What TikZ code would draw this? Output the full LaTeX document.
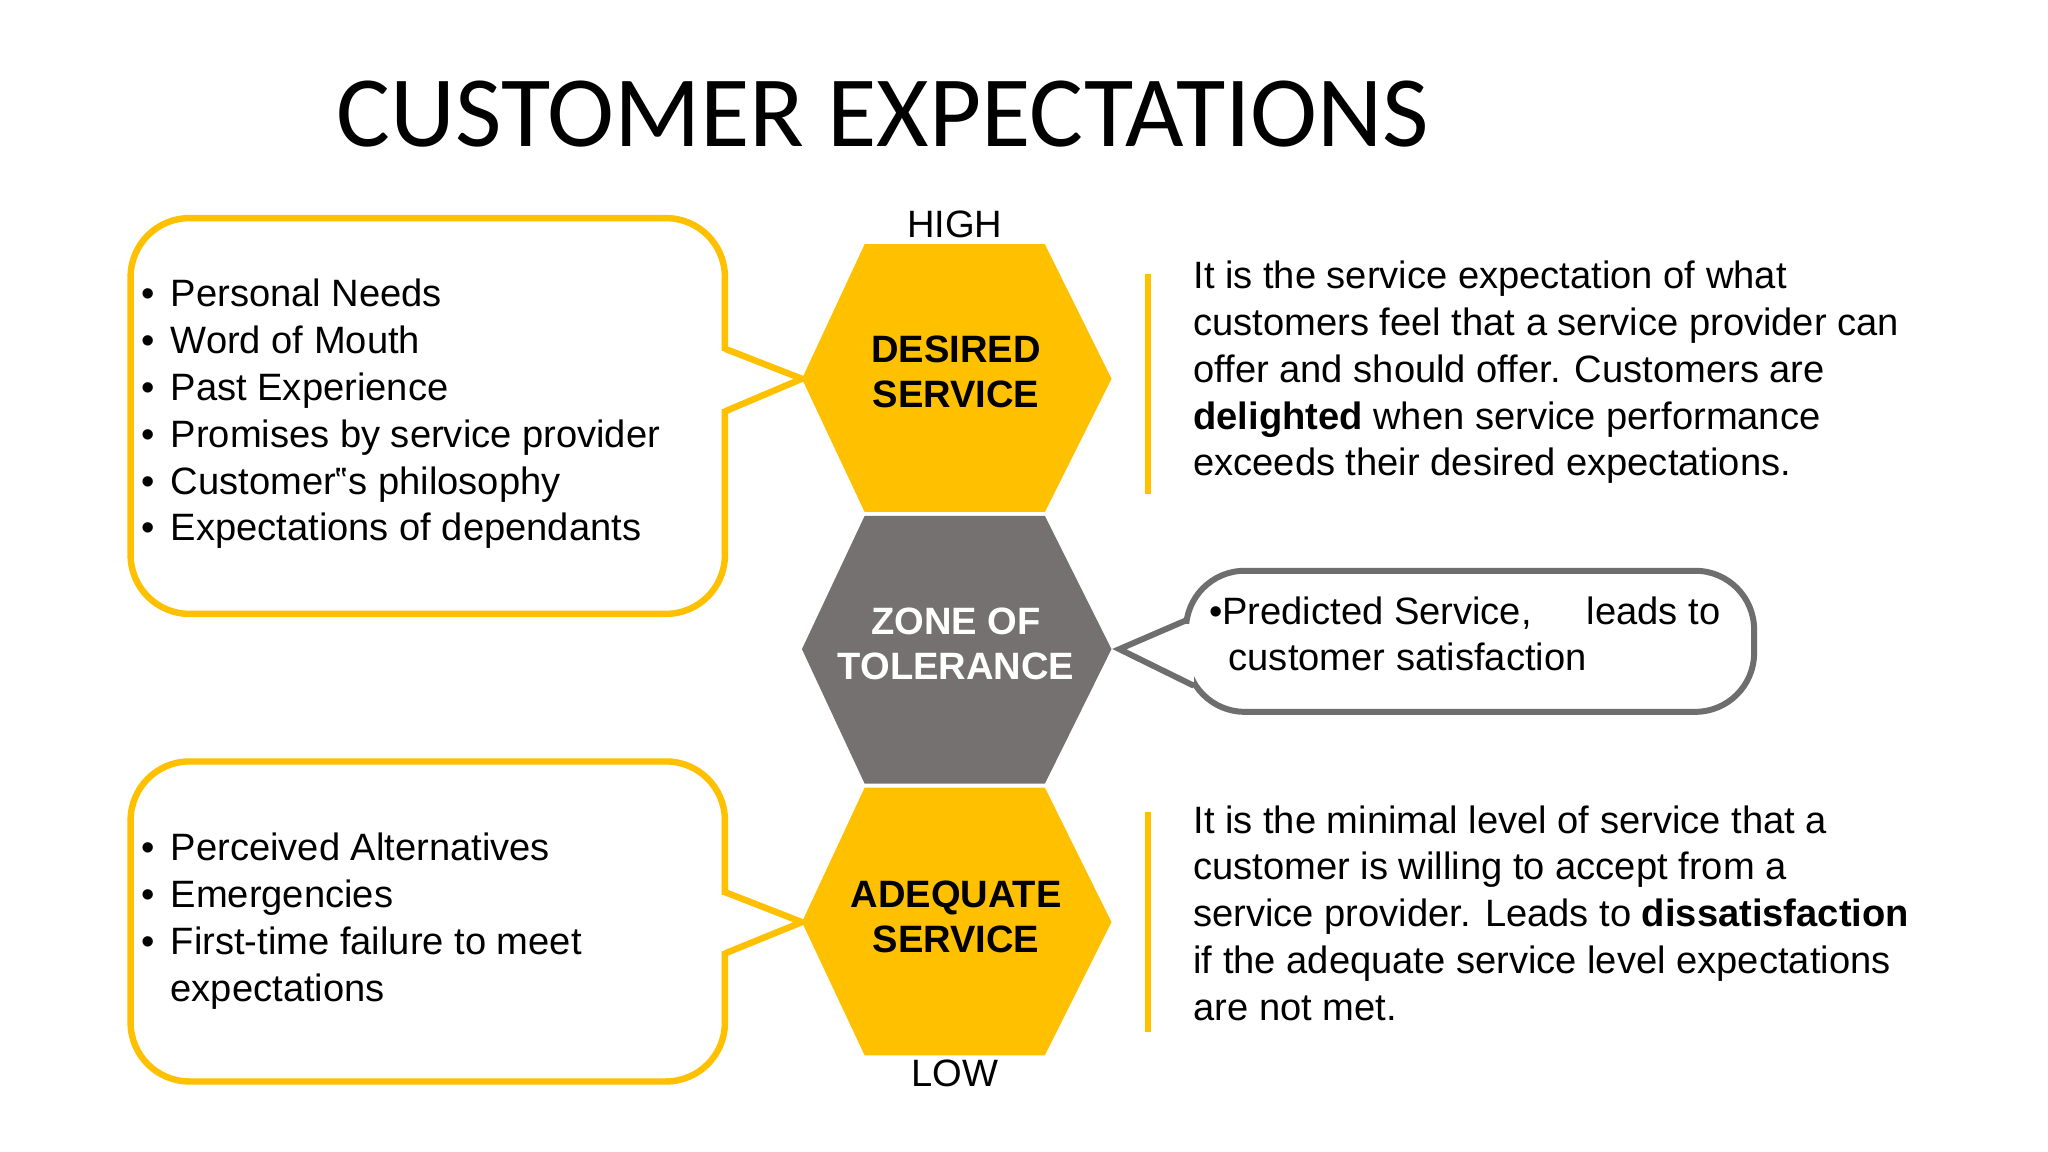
\documentclass[tikz,border=0pt]{standalone}
\usepackage{fontspec}
\setmainfont{Liberation Sans}
\newfontfamily\titlefont{Carlito}
\definecolor{ylw}{HTML}{FFC000}
\definecolor{gry}{HTML}{767171}
\definecolor{gline}{HTML}{6E6E6E}
\newcommand{\bl}{\makebox[2.2mm][l]{•}}
\begin{document}
\begin{tikzpicture}[x=0.01cm,y=-0.01cm,
  body/.style={font=\fontsize{8.3}{10.2}\selectfont,align=left,anchor=north west,inner sep=0},
  hext/.style={font=\fontsize{8.3}{9.8}\selectfont\bfseries,align=center},
  ybox/.style={draw=ylw,line width=1.4pt,rounded corners=0.45cm},
  yline/.style={draw=ylw,line width=1.4pt}]
\useasboundingbox[fill=white] (0,0) rectangle (1568,882);
\node[font=\titlefont\fontsize{22}{24}\selectfont,anchor=west,inner sep=0] (title) at (257,87) {CUSTOMER EXPECTATIONS};
% hexagons
\fill[ylw] (662,187) -- (800,187) -- (851,290) -- (800,392) -- (662,392) -- (614,290) -- cycle;
\fill[gry] (662,395) -- (800,395) -- (851,497) -- (800,600) -- (662,600) -- (614,497) -- cycle;
\fill[ylw] (662,603) -- (800,603) -- (851,706) -- (800,808) -- (662,808) -- (614,706) -- cycle;
\node[hext] (des) at (732,285) {DESIRED\\SERVICE};
\node[hext,white] (zone) at (732,493) {ZONE OF\\TOLERANCE};
\node[hext] (ade) at (732,702) {ADEQUATE\\SERVICE};
\node[font=\fontsize{8.3}{10}\selectfont] (high) at (731,172) {HIGH};
\node[font=\fontsize{8.3}{10}\selectfont] (low) at (731,822) {LOW};
\coordinate (dl) at (614,290);
\coordinate (al) at (614,706);
\coordinate (zr) at (857,497);
% left boxes
\draw[ybox] (100,167) rectangle (555,470);
\fill[white] (550,269) rectangle (560,313);
\draw[yline,line join=miter] (555,267) -- (dl) -- (555,315);
\draw[ybox] (100,583) rectangle (555,828);
\fill[white] (550,685) rectangle (560,728);
\draw[yline,line join=miter] (555,683) -- (al) -- (555,730);
\node[body] (l1) at (108,213) {\bl Personal Needs\\\bl Word of Mouth\\\bl Past Experience\\\bl Promises by service provider\\\bl Customer‟s philosophy\\\bl Expectations of dependants};
\node[body] (l2) at (108,637) {\bl Perceived Alternatives\\\bl Emergencies\\\bl First-time failure to meet\\\hspace*{2.2mm}expectations};
% right callout
\draw[draw=gline,line width=1.3pt,rounded corners=0.45cm] (908,437) rectangle (1343,545);
\fill[white] (903,478) rectangle (914,522);
\draw[draw=gline,line width=1.3pt,line join=miter] (908,475) -- (zr) -- (914,525);
\node[body] (pred) at (925,456) {•Predicted Service,\quad\, leads to\\\hspace*{1.5mm}customer satisfaction};
% right texts
\draw[yline] (879,210) -- (879,378);
\draw[yline] (879,622) -- (879,790);
\node[body] (t1) at (913,199) {It is the service expectation of what\\customers feel that a service provider can\\offer and should offer. Customers are\\\textbf{delighted} when service performance\\exceeds their desired expectations.};
\node[body] (t2) at (913,616) {It is the minimal level of service that a\\customer is willing to accept from a\\service provider. Leads to \textbf{dissatisfaction}\\if the adequate service level expectations\\are not met.};
\end{tikzpicture}
\end{document}
